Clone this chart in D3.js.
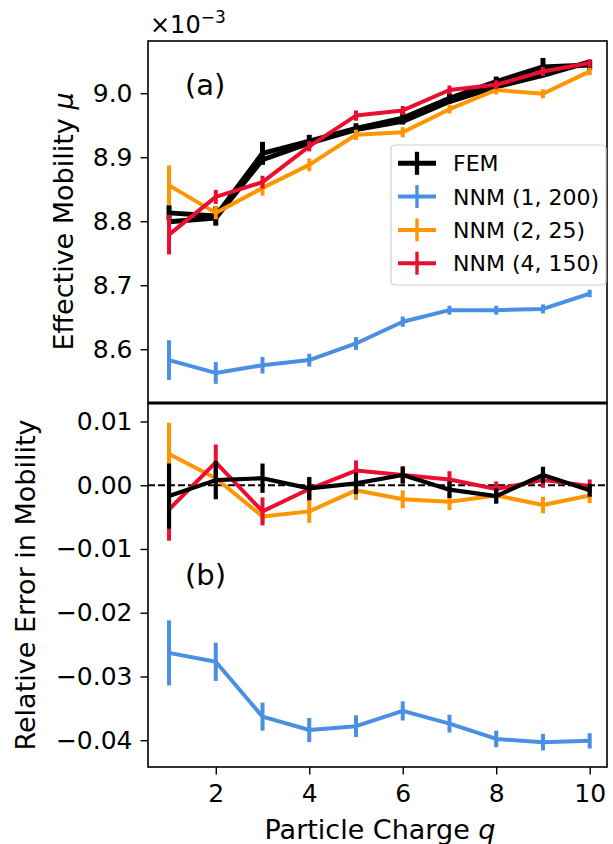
<!DOCTYPE html>
<html>
<head>
<meta charset="utf-8">
<script src="https://cdn.jsdelivr.net/npm/d3@7"></script>
<style>
  body { margin: 0; background: #fff; }
  text { font-family: "DejaVu Sans", sans-serif; fill: #000; }
</style>
</head>
<body>
<div id="chart"></div>
<script>
// data
const charges = [1, 2, 3, 4, 5, 6, 7, 8, 9, 10];

// panel (a): effective mobility, in units of 1e-3
const femMu      = [8.813, 8.808, 8.906, 8.925, 8.945, 8.961, 8.992, 9.018, 9.041, 9.044];
const femMuErr   = [0.012, 0.015, 0.018, 0.010, 0.008, 0.010, 0.008, 0.008, 0.014, 0.008];
const femMu2     = [8.799, 8.805, 8.896, 8.922, 8.943, 8.956, 8.987, 9.010, 9.028, 9.049];
const nnm1Mu     = [8.583, 8.563, 8.575, 8.583, 8.609, 8.643, 8.661, 8.661, 8.663, 8.687];
const nnm1MuErr  = [0.031, 0.017, 0.013, 0.010, 0.010, 0.008, 0.007, 0.007, 0.007, 0.006];
const nnm2Mu     = [8.856, 8.813, 8.852, 8.888, 8.935, 8.939, 8.975, 9.005, 8.999, 9.034];
const nnm2MuErr  = [0.031, 0.010, 0.012, 0.010, 0.008, 0.008, 0.007, 0.007, 0.007, 0.006];
const nnm4Mu     = [8.779, 8.838, 8.861, 8.917, 8.965, 8.973, 9.005, 9.013, 9.034, 9.047];
const nnm4MuErr  = [0.031, 0.011, 0.010, 0.008, 0.008, 0.007, 0.007, 0.007, 0.007, 0.006];

// panel (b): relative error
const femRel     = [-0.0017, 0.0008, 0.0011, -0.0005, 0.0003, 0.0016, -0.0007, -0.0017, 0.0016, -0.0008];
const femRelErr  = [0.0051, 0.0030, 0.0023, 0.0018, 0.0017, 0.0013, 0.0013, 0.0012, 0.0013, 0.0010];
const nnm1Rel    = [-0.0263, -0.0277, -0.0363, -0.0384, -0.0378, -0.0354, -0.0374, -0.0398, -0.0403, -0.0401];
const nnm1RelErr = [0.0051, 0.0030, 0.0022, 0.0019, 0.0017, 0.0015, 0.0014, 0.0013, 0.0013, 0.0012];
const nnm2Rel    = [0.0049, 0.0011, -0.0049, -0.0041, -0.0008, -0.0022, -0.0026, -0.0016, -0.0031, -0.0016];
const nnm2RelErr = [0.0049, 0.0020, 0.0010, 0.0018, 0.0015, 0.0014, 0.0013, 0.0012, 0.0013, 0.0012];
const nnm4Rel    = [-0.0038, 0.0036, -0.0041, -0.0006, 0.0023, 0.0016, 0.0009, -0.0006, 0.0008, -0.0001];
const nnm4RelErr = [0.0049, 0.0028, 0.0022, 0.0018, 0.0016, 0.0014, 0.0013, 0.0012, 0.0012, 0.0010];

const xTicks = [2, 4, 6, 8, 10];
const muTicks = [8.6, 8.7, 8.8, 8.9, 9.0];
const relTicks = [0.01, 0.00, -0.01, -0.02, -0.03, -0.04];

const colors = { fem: '#000000', nnm1: '#4a8fe2', nnm2: '#ff9500', nnm4: '#ea0f2f' };

const legendItems = [
  { label: 'FEM', color: colors.fem, w: 5 },
  { label: 'NNM (1, 200)', color: colors.nnm1, w: 4 },
  { label: 'NNM (2, 25)', color: colors.nnm2, w: 4 },
  { label: 'NNM (4, 150)', color: colors.nnm4, w: 4 }
];

const width = 613, height = 844;
const left = 148, right = 607;
const topA = 41, botA = 403, topB = 403, botB = 767;

const svg = d3.select('#chart').append('svg')
  .attr('width', width).attr('height', height);

const x = d3.scaleLinear().domain([0.55, 10.37]).range([left, right]);
const yA = d3.scaleLinear().domain([8.516, 9.0815]).range([botA, topA]);
const yB = d3.scaleLinear().domain([-0.0442, 0.0129]).range([botB, topB]);

const fmtRel = v => (v < 0 ? '\u2212' : '') + d3.format('.2f')(Math.abs(v));

// one series with vertical error bars
function drawSeries(g, y, vals, errs, color, lw) {
  const line = d3.line().x((d, i) => x(charges[i])).y(d => y(d));
  if (errs) {
    g.append('g').selectAll('line')
      .data(vals)
      .join('line')
      .attr('x1', (d, i) => x(charges[i]))
      .attr('x2', (d, i) => x(charges[i]))
      .attr('y1', (d, i) => y(d - errs[i]))
      .attr('y2', (d, i) => y(d + errs[i]))
      .attr('stroke', color)
      .attr('stroke-width', lw);
  }
  g.append('path')
    .datum(vals)
    .attr('d', line)
    .attr('fill', 'none')
    .attr('stroke', color)
    .attr('stroke-width', lw)
    .attr('stroke-linejoin', 'round');
}

// clip paths
const defs = svg.append('defs');
defs.append('clipPath').attr('id', 'clipA').append('rect')
  .attr('x', left).attr('y', topA).attr('width', right - left).attr('height', botA - topA);
defs.append('clipPath').attr('id', 'clipB').append('rect')
  .attr('x', left).attr('y', topB).attr('width', right - left).attr('height', botB - topB);

// panel (a)
const gA = svg.append('g').attr('clip-path', 'url(#clipA)');
drawSeries(gA, yA, femMu2, null, colors.fem, 5);
drawSeries(gA, yA, femMu, femMuErr, colors.fem, 5);
drawSeries(gA, yA, nnm1Mu, nnm1MuErr, colors.nnm1, 4);
drawSeries(gA, yA, nnm2Mu, nnm2MuErr, colors.nnm2, 4);
drawSeries(gA, yA, nnm4Mu, nnm4MuErr, colors.nnm4, 4);

// panel (b)
const gB = svg.append('g').attr('clip-path', 'url(#clipB)');
gB.append('line')
  .attr('x1', left).attr('x2', right)
  .attr('y1', yB(0)).attr('y2', yB(0))
  .attr('stroke', '#000').attr('stroke-width', 2)
  .attr('stroke-dasharray', '7,3');
drawSeries(gB, yB, nnm1Rel, nnm1RelErr, colors.nnm1, 4);
drawSeries(gB, yB, nnm2Rel, nnm2RelErr, colors.nnm2, 4);
drawSeries(gB, yB, nnm4Rel, nnm4RelErr, colors.nnm4, 4);
drawSeries(gB, yB, femRel, femRelErr, colors.fem, 4.2);

// axes
function styleAxis(g) {
  g.select('.domain').remove();
  g.selectAll('.tick line').attr('stroke', '#000').attr('stroke-width', 1.4);
  g.selectAll('.tick text').style('font-size', '25px').style('font-family', '"DejaVu Sans", sans-serif');
}

svg.append('g')
  .attr('transform', `translate(${left},0)`)
  .call(d3.axisLeft(yA).tickValues(muTicks).tickFormat(d3.format('.1f')).tickSize(7.5).tickPadding(8))
  .call(styleAxis);

svg.append('g')
  .attr('transform', `translate(${left},0)`)
  .call(d3.axisLeft(yB).tickValues(relTicks).tickFormat(fmtRel).tickSize(7.5).tickPadding(8))
  .call(styleAxis);

svg.append('g')
  .attr('transform', `translate(0,${botB})`)
  .call(d3.axisBottom(x).tickValues(xTicks).tickSize(7.5).tickPadding(10))
  .call(styleAxis);

// frames
[[topA, botA], [topB, botB]].forEach(([t, b]) => {
  svg.append('rect')
    .attr('x', left).attr('y', t)
    .attr('width', right - left).attr('height', b - t)
    .attr('fill', 'none').attr('stroke', '#000').attr('stroke-width', 1.6);
});
svg.append('line')
  .attr('x1', left).attr('x2', right).attr('y1', botA).attr('y2', botA)
  .attr('stroke', '#000').attr('stroke-width', 3);

// panel labels
svg.append('text').attr('x', 185).attr('y', 95).style('font-size', '29px').text('(a)');
svg.append('text').attr('x', 185).attr('y', 585).style('font-size', '29px').text('(b)');

// offset text
const off = svg.append('text').attr('x', 150).attr('y', 33).style('font-size', '24px');
off.append('tspan').text('\u00d710');
off.append('tspan').attr('dy', -10).style('font-size', '17px').text('\u22123');

// axis titles
const tA = svg.append('text')
  .attr('transform', 'translate(73,221.5) rotate(-90)')
  .attr('text-anchor', 'middle').style('font-size', '27px');
tA.append('tspan').text('Effective Mobility ');
tA.append('tspan').style('font-style', 'italic').text('\u03bc');

svg.append('text')
  .attr('transform', 'translate(35,585) rotate(-90)')
  .attr('text-anchor', 'middle').style('font-size', '27px')
  .text('Relative Error in Mobility');

const tX = svg.append('text')
  .attr('x', 380).attr('y', 839)
  .attr('text-anchor', 'middle').style('font-size', '27px');
tX.append('tspan').text('Particle Charge ');
tX.append('tspan').style('font-style', 'italic').text('q');

// legend
const lg = svg.append('g').attr('transform', 'translate(391,145)');
lg.append('rect')
  .attr('width', 215).attr('height', 140).attr('rx', 4)
  .attr('fill', 'rgba(255,255,255,0.8)').attr('stroke', '#d0d0d0').attr('stroke-width', 1.2);
const li = lg.selectAll('g.item')
  .data(legendItems)
  .join('g')
  .attr('class', 'item')
  .attr('transform', (d, i) => `translate(0,${18.3 + i * 33.3})`);
li.append('line')
  .attr('x1', 7).attr('x2', 45).attr('y1', 0).attr('y2', 0)
  .attr('stroke', d => d.color).attr('stroke-width', d => d.w);
li.append('line')
  .attr('x1', 26).attr('x2', 26).attr('y1', -11.5).attr('y2', 11.5)
  .attr('stroke', d => d.color).attr('stroke-width', d => d.w * 0.85);
li.append('text')
  .attr('x', 62).attr('y', 8)
  .style('font-size', '22px')
  .text(d => d.label);
</script>
</body>
</html>
